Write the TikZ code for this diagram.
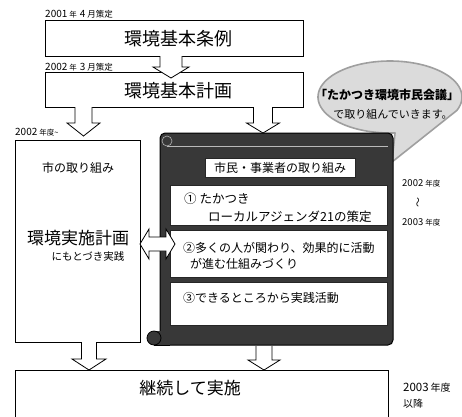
\documentclass[tikz,border=0pt]{standalone}
\usepackage{fontspec}
\setmainfont{Noto Sans CJK JP}
\newcommand\fsz[1]{\fontsize{#1}{#1}\selectfont}
\newcommand\blockdown[6]{%
  \draw[barrow] ({#1-#5},#2) -- ({#1-#5},#4) -- ({#1-#6},#4) -- (#1,#3) -- ({#1+#6},#4) -- ({#1+#5},#4) -- ({#1+#5},#2);}
\begin{document}
\begin{tikzpicture}[x=1pt,y=-1pt,
  box/.style={draw, line width=0.8pt, fill=white, inner sep=0pt},
  itembox/.style={draw=black!85, line width=1pt, fill=white, inner sep=0pt, minimum width=217, anchor=north west},
  lbl/.style={inner sep=0pt, font=\fsz{7}},
  txt/.style={inner sep=0pt},
  barrow/.style={draw, line width=0.8pt, fill=white, line join=miter},
  scrollfill/.style={fill=black!78},
  bubble/.style={fill=gray!28, draw=gray!75, line width=1.6pt, line join=round}]
\useasboundingbox (0,0) rectangle (462,416);
\clip (0,0) rectangle (462,416);

% top boxes
\node[box, minimum width=258, minimum height=36] (b1) at (174,38) {};
\node[txt, font=\fsz{18}] (t1) at (178,39) {環境基本条例};
\node[lbl, anchor=west] (l1) at (45,14) {\fsz{10}2001\hspace{2pt}\fsz{7.5}年\hspace{3pt}\fsz{10}4\hspace{2pt}\fsz{8.5}月策定};
\node[box, minimum width=258, minimum height=35] (b2) at (174,89.5) {};
\node[txt, font=\fsz{18}] (t2) at (178,91) {環境基本計画};
\node[lbl, anchor=west] (l2) at (45,67) {\fsz{10}2002\hspace{2pt}\fsz{7.5}年\hspace{3pt}\fsz{10}3\hspace{2pt}\fsz{8.5}月策定};

% callout bubble
\draw[bubble] (392,162) -- plot[domain=-274:22, samples=120] ({390+72*cos(\x)},{97+36*sin(\x)}) -- cycle;
\node[txt, font=\fsz{12}\bfseries] (c1) at (387,95) {「たかつき環境市民会議」};
\node[txt, font=\fsz{11}] (c2) at (393,114) {で取り組んでいきます。};

% left box
\node[box, minimum width=125, minimum height=202, anchor=north west] (lb) at (15,140) {};
\node[lbl, anchor=west] (l3) at (15,132) {\fsz{10}2002\hspace{2pt}\fsz{7.5}年度\textasciitilde};
\node[txt, font=\fsz{12}] (lt1) at (78,168) {市の取り組み};
\node[txt, font=\fsz{17}] (lt2) at (78,238) {環境実施計画};
\node[txt, font=\fsz{10.5}] (lt3) at (88,256) {にもとづき実践};

% scroll panel
\fill[scrollfill, draw=black, line width=1pt, rounded corners=5] (160,133) rectangle (393,345);
\fill[scrollfill] (154,331) rectangle (170,345);
\filldraw[scrollfill, draw=black, line width=0.8pt] (154,338) circle (7);
\draw[black, line width=1pt] (154,345) -- (170,345);
\draw[gray!60, line width=0.6pt] (167,141) circle (5);
\draw[gray!55, line width=0.5pt] (167,146) -- (388,146);

\node[box, draw=black!85, line width=1pt, minimum width=150, minimum height=19] (pt) at (280,167.5) {};
\node[txt, font=\fsz{12}] (ptt) at (280,168) {市民・事業者の取り組み};

\node[itembox, minimum height=40] (i1) at (170,185) {};
\node[txt, font=\fsz{12.5}, anchor=west] (i1a) at (184,199) {① たかつき};
\node[txt, font=\fsz{12.5}, anchor=west] (i1b) at (208,217) {ローカルアジェンダ21の策定};
\node[itembox, minimum height=47] (i2) at (170,230) {};
\node[txt, font=\fsz{12}, anchor=west] (i2a) at (183,248) {②多くの人が関わり、効果的に活動};
\node[txt, font=\fsz{12}, anchor=west] (i2b) at (190,264) {が進む仕組みづくり};
\node[itembox, minimum height=43] (i3) at (170,282) {};
\node[txt, font=\fsz{12}, anchor=west] (i3a) at (183,298) {③できるところから実践活動};

% right period labels
\node[lbl, anchor=west] (r1) at (402,183) {\fsz{9.5}2002\hspace{2pt}\fsz{7.5}年度};
\node[txt, font=\fsz{10}, rotate=90] (r2) at (419,202) {～};
\node[lbl, anchor=west] (r3) at (402,222) {\fsz{9.5}2003\hspace{2pt}\fsz{7.5}年度};

% bottom box
\node[box, minimum width=373, minimum height=70, anchor=north west] (bb) at (15,370) {};
\node[txt, font=\fsz{17}] (bt) at (190,388) {継続して実施};
\node[lbl, anchor=west] (r4) at (403,388) {\fsz{11.5}2003\hspace{2pt}\fsz{10}年度};
\node[lbl, anchor=west, font=\fsz{10}] (r5) at (403,404) {以降};

% block arrows
\blockdown{171}{56}{78}{67}{11}{18}
\blockdown{83.5}{107}{136}{123}{8.5}{16.5}
\blockdown{263}{107}{133}{123}{9.5}{16.5}
\blockdown{89}{342}{370}{359}{7.5}{17}
\blockdown{264}{346}{370}{360}{8}{16}
\draw[barrow] (140,244) -- (149,229) -- (149,237) -- (166,237) -- (166,229) -- (175,244) -- (166,259) -- (166,251) -- (149,251) -- (149,259) -- cycle;
\end{tikzpicture}
\end{document}
